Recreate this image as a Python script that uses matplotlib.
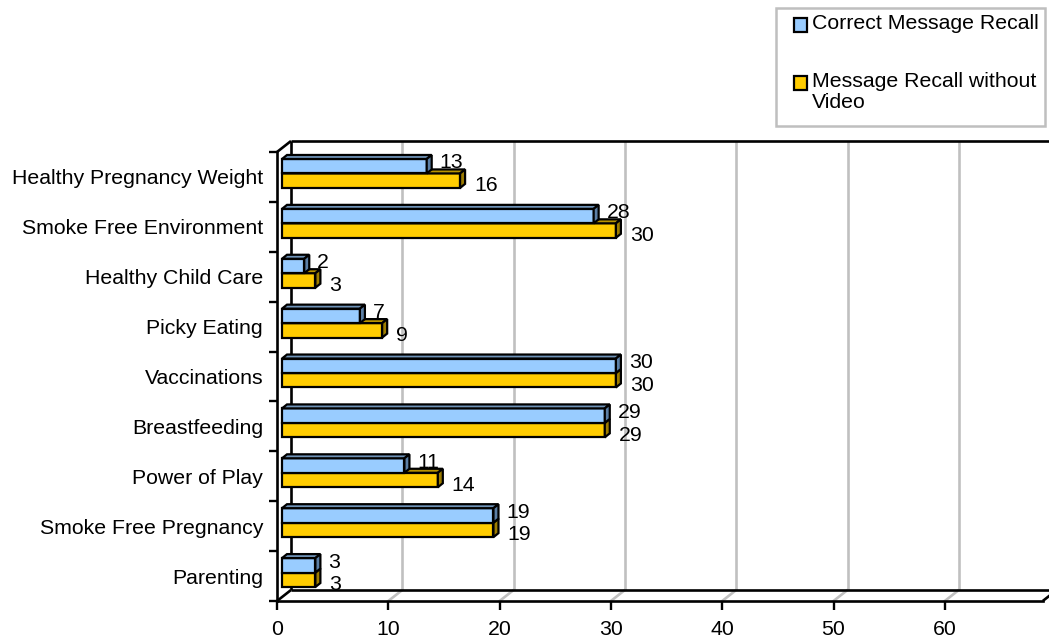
#!/usr/bin/env python3
"""Message recall by topic: Excel-style 3D clustered horizontal bars."""

import matplotlib.pyplot as plt
from matplotlib.patches import Polygon, Rectangle

CATEGORIES = [
    "Healthy Pregnancy Weight",
    "Smoke Free Environment",
    "Healthy Child Care",
    "Picky Eating",
    "Vaccinations",
    "Breastfeeding",
    "Power of Play",
    "Smoke Free Pregnancy",
    "Parenting",
]
CORRECT_RECALL = [13, 28, 2, 7, 30, 29, 11, 19, 3]
RECALL_NO_VIDEO = [16, 30, 3, 9, 30, 29, 14, 19, 3]
SERIES_LABELS = ["Correct Message Recall", "Message Recall without\nVideo"]
X_TICKS = [0, 10, 20, 30, 40, 50, 60]

# layout (pixels)
FIG_W, FIG_H, DPI = 1049, 637, 100
AX_LEFT, AX_TOP, AX_BOTTOM = 277, 152, 601
PX_PER_UNIT = 11.13
FLOOR_END = 68.8
BACK_SHIFT = (14, 11)   # depth of the 3D box (px, right / up)
BAR_SHIFT = (5, 3.5)    # bars sit in the middle of the depth
BAR_DEPTH = (5, 4)      # depth of each bar
BAR_H = 0.29            # category units

BLUE = ("#99CCFF", "#6F93B8", "#5B7FA6")
GOLD = ("#FFCC00", "#B89300", "#9C7C00")
GRID = "#C0C0C0"
LW = 1.6
FONT = 15.3

plt.rcParams["font.family"] = ["Liberation Sans", "DejaVu Sans"]


def px_to_data(ax, dx, dy):
    (x0, y0), (x1, y1) = ax.transData.transform([(0, 0), (1, 1)])
    return dx / (x1 - x0), dy / (y1 - y0)


def box_bar(ax, y0, value, colors, z):
    sx, sy = px_to_data(ax, *BAR_SHIFT)
    ddx, ddy = px_to_data(ax, *BAR_DEPTH)
    x0, x1 = sx, sx + value
    yb = y0 + sy
    yt = yb + BAR_H
    front, top, side = colors
    ax.barh(yb, value, height=BAR_H, left=x0, align="edge", color=front,
            edgecolor="black", linewidth=LW, zorder=z)
    ax.add_patch(Polygon([(x0, yt), (x0 + ddx, yt + ddy), (x1 + ddx, yt + ddy), (x1, yt)],
                         closed=True, fc=top, ec="black", lw=LW, zorder=z))
    ax.add_patch(Polygon([(x1, yb), (x1 + ddx, yb + ddy), (x1 + ddx, yt + ddy), (x1, yt)],
                         closed=True, fc=side, ec="black", lw=LW, zorder=z))


fig = plt.figure(figsize=(FIG_W / DPI, FIG_H / DPI), dpi=DPI)
ax = fig.add_axes([AX_LEFT / FIG_W, 1 - AX_BOTTOM / FIG_H,
                   1 - AX_LEFT / FIG_W, (AX_BOTTOM - AX_TOP) / FIG_H])
n = len(CATEGORIES)
xmax = (FIG_W - AX_LEFT) / PX_PER_UNIT
ax.set_xlim(0, xmax)
ax.set_ylim(-0.5, n - 0.5)
ypos = list(range(n - 1, -1, -1))

bdx, bdy = px_to_data(ax, *BACK_SHIFT)
ybot, ytop = -0.5, n - 0.5

# back wall gridlines + floor diagonals
for t in X_TICKS[1:]:
    ax.plot([t + bdx, t + bdx], [ybot + bdy, ytop + bdy], color=GRID, lw=1.9,
            zorder=1, clip_on=False, solid_capstyle="butt")
    ax.plot([t, t + bdx], [ybot, ybot + bdy], color=GRID, lw=1.9, zorder=1,
            clip_on=False)

# box edges (back wall, left wall, floor)
edge = dict(color="black", lw=1.9, clip_on=False, solid_capstyle="butt")
ax.plot([bdx, bdx], [ybot + bdy, ytop + bdy], zorder=1, **edge)
ax.plot([bdx, xmax + bdx], [ytop + bdy, ytop + bdy], zorder=1, **edge)
ax.plot([bdx, xmax + bdx], [ybot + bdy, ybot + bdy], zorder=7, **edge)
ax.plot([0, bdx], [ytop, ytop + bdy], zorder=1, **edge)
ax.plot([0, bdx], [ybot, ybot + bdy], zorder=1, **edge)
ax.plot([FLOOR_END, FLOOR_END + bdx], [ybot, ybot + bdy], zorder=1, **edge)

# bars: gold below, blue above
for y, a, b in zip(ypos, CORRECT_RECALL, RECALL_NO_VIDEO):
    box_bar(ax, y - BAR_H, b, GOLD, 3)
    box_bar(ax, y, a, BLUE, 4)
    lx = BAR_SHIFT[0] + 13
    ax.annotate(str(a), xy=(a, y + BAR_H), xytext=(lx, BAR_SHIFT[1] - 4),
                textcoords="offset pixels", ha="left", va="center",
                fontsize=FONT, zorder=6)
    ax.annotate(str(b), xy=(b, y - BAR_H / 2), xytext=(lx + 1, BAR_SHIFT[1] - 5),
                textcoords="offset pixels", ha="left", va="center",
                fontsize=FONT, zorder=6)

# axes: front left and front floor
for s in ("top", "right"):
    ax.spines[s].set_visible(False)
for s in ("left", "bottom"):
    ax.spines[s].set_linewidth(1.9)
    ax.spines[s].set_zorder(2)
ax.spines["bottom"].set_bounds(0, FLOOR_END)
ax.patch.set_visible(False)

ax.set_xticks(X_TICKS)
ax.set_xticklabels([str(t) for t in X_TICKS], fontsize=FONT)
ax.tick_params(axis="x", length=6.5, width=1.7, pad=7)
ax.set_yticks(ypos)
ax.set_yticklabels(CATEGORIES, fontsize=FONT)
ax.set_yticks([i - 0.5 for i in range(n + 1)], minor=True)
ax.tick_params(axis="y", which="major", length=0, pad=10)
ax.tick_params(axis="y", which="minor", length=6, width=1.7)

# legend box
lg = fig.transFigure
fig.add_artist(Rectangle((776 / FIG_W, 1 - 126 / FIG_H), 269 / FIG_W, 118 / FIG_H,
                         transform=lg, fc="white", ec="#BFBFBF", lw=1.8))
for (cy, label, colors) in zip([25, 83], SERIES_LABELS, [BLUE, GOLD]):
    fig.add_artist(Rectangle((794 / FIG_W, 1 - (cy + 6.5) / FIG_H), 13 / FIG_W, 13 / FIG_H,
                             transform=lg, fc=colors[0], ec="black", lw=1.6))
    fig.text(812 / FIG_W, 1 - (cy - 11) / FIG_H, label, ha="left", va="top",
             fontsize=FONT, linespacing=1.1)

fig.savefig("out.png", dpi=DPI)
